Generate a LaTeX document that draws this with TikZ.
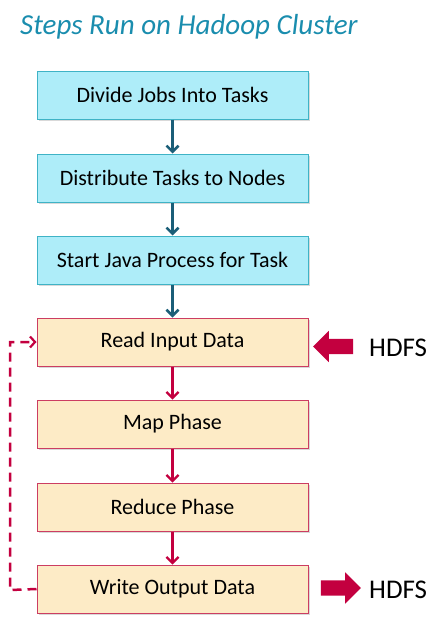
\documentclass[tikz,border=0pt]{standalone}
\usepackage{fontspec}
\setmainfont{Carlito}
\usetikzlibrary{arrows.meta,shadows,shapes.arrows}
\definecolor{titleblue}{HTML}{1A8DAE}
\definecolor{bfill}{HTML}{AEEDF9}
\definecolor{bdraw}{HTML}{3FB3C6}
\definecolor{barrow}{HTML}{1B5E78}
\definecolor{yfill}{HTML}{FDEBC6}
\definecolor{ydraw}{HTML}{CC3D62}
\definecolor{rarrow}{HTML}{C3003F}
\tikzset{
  box/.style={minimum width=271pt, minimum height=48pt, inner sep=0pt, font=\fontsize{22}{26}\selectfont, drop shadow={shadow xshift=1.5pt, shadow yshift=-1.5pt, opacity=0.3}},
  bluebox/.style={box, fill=bfill, draw=bdraw, line width=1pt},
  yelbox/.style={box, fill=yfill, draw=ydraw, line width=1pt},
  barr/.style={draw=barrow, line width=2.5pt, -{Straight Barb[length=6pt,width=12pt,line width=2.5pt]}},
  rarr/.style={draw=rarrow, line width=2.2pt, -{Straight Barb[length=6pt,width=12pt,line width=2.2pt]}},
  fat/.style={single arrow, fill=rarrow, minimum height=40pt, inner sep=7.5pt, single arrow head extend=8pt},
  hdfs/.style={font=\fontsize{27}{30}\selectfont, anchor=west, inner sep=0pt}
}
\begin{document}
\begin{tikzpicture}[x=1pt,y=-1pt]
\useasboundingbox (0,0) rectangle (447,634);
\node[font=\itshape\fontsize{29}{33}\selectfont, text=titleblue, anchor=base west, inner sep=0pt] (title) at (20,35) {Steps Run on Hadoop Cluster};
\node[bluebox] (b1) at (172.5,95) {Divide Jobs Into Tasks};
\node[bluebox] (b2) at (172.5,178) {Distribute Tasks to Nodes};
\node[bluebox] (b3) at (172.5,260) {Start Java Process for Task};
\node[yelbox] (y1) at (172.5,342) {Read Input Data};
\node[yelbox] (y2) at (172.5,424) {Map Phase};
\node[yelbox] (y3) at (172.5,507) {Reduce Phase};
\node[yelbox] (y4) at (172.5,589) {Write Output Data};
\draw[barr] (b1) -- (b2);
\draw[barr] (b2) -- (b3);
\draw[barr] (b3) -- (y1);
\draw[rarr] (y1) -- (y2);
\draw[rarr] (y2) -- (y3);
\draw[rarr] (y3) -- (y4);
\node[fat, shape border rotate=180] (in) at (337,346.5) {};
\node[fat] (out) at (337,588) {};
\node[hdfs] (h1) at (369,347.5) {HDFS};
\node[hdfs] (h2) at (369,589.5) {HDFS};
\coordinate (c1) at (10,590);
\coordinate (c2) at (10,342);
\draw[draw=rarrow, line width=2.5pt, dash pattern=on 9pt off 6pt, -{Straight Barb[length=5pt,width=11pt,line width=2.2pt]}] (y4.west) -- (c1) -- (c2) -- (y1.west);
\end{tikzpicture}
\end{document}
